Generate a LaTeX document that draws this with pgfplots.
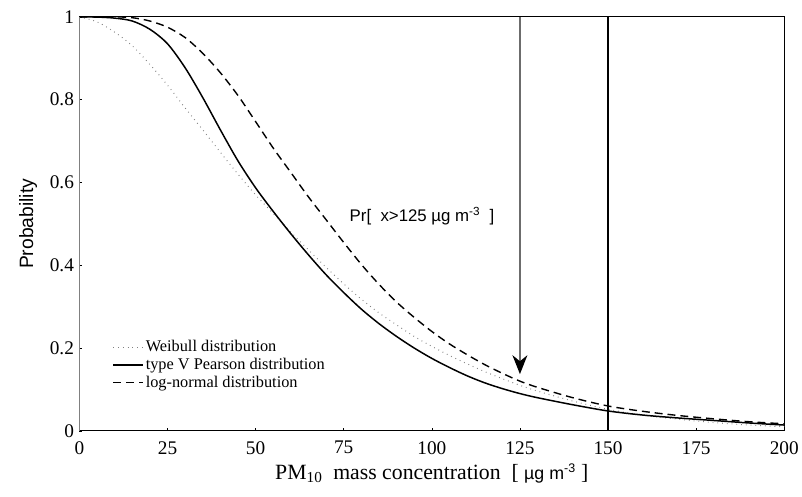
\documentclass[border=0pt]{standalone}
\usepackage{pgfplots}
\pgfplotsset{compat=1.18}
\usepackage{fontspec}
\setmainfont{Liberation Serif}
\newfontfamily\arial{Liberation Sans}
\usetikzlibrary{arrows.meta}

\begin{document}
\begin{tikzpicture}
\path (-80bp,-66bp) rectangle (722bp,434bp);
\begin{axis}[
  scale only axis,
  width=710bp, height=417bp,
  xmin=0, xmax=200, ymin=0, ymax=1,
  xtick={0,25,...,200},
  ytick={0,0.2,0.4,0.6,0.8,1},
  yticklabels={0,0.2,0.4,0.6,0.8,1},
  tick pos=left,
  tick align=inside,
  major tick length=3bp,
  tick style={black, line width=0.6bp},
  axis line style={line width=0.9bp},
  /pgf/number format/assume math mode=true,
  ticklabel style={font=\fontsize{19.5}{21}\selectfont},
  xticklabel style={yshift=-7bp},
  yticklabel style={xshift=-2bp},
  xlabel={PM\textsubscript{10}~ mass concentration~ [ {\arial\fontsize{18}{20}\selectfont µg m\textsuperscript{-3}} ]},
  xlabel style={font=\fontsize{22}{24}\selectfont, yshift=-3bp},
  ylabel={\arial Probability},
  ylabel style={font=\fontsize{19.5}{21}\selectfont, yshift=6bp},
  clip=false,
  legend cell align=left,
  legend style={draw=none, fill=none, at={(axis cs:8.5,0.228)}, anchor=north west,
    font=\fontsize{16.5}{18}\selectfont, row sep=1bp,
    /tikz/every even column/.append style={column sep=4bp}},
  legend image code/.code={\draw[#1] (0bp,0bp) -- (30bp,0bp);},
]
% Weibull (dotted)
\addplot[gray, line width=1bp, dash pattern=on 0.8bp off 4bp, smooth] coordinates {
(0,1.0) (5,0.988) (10,0.963) (15,0.93) (20,0.885) (25,0.835) (30,0.78) (35,0.727)
(40,0.673) (45,0.62) (50,0.57) (55,0.525) (60,0.48) (65,0.437) (70,0.395) (75,0.355)
(80,0.318) (85,0.285) (90,0.256) (95,0.228) (100,0.204) (105,0.182) (110,0.162)
(115,0.143) (120,0.126) (125,0.11) (130,0.096) (140,0.072) (150,0.052) (160,0.038)
(170,0.028) (180,0.02) (190,0.014) (200,0.01)};
\addlegendentry{Weibull distribution}
% Pearson type V (solid)
\addplot[black, line width=1.5bp, smooth] coordinates {
(0,1.0) (5,0.9995) (10,0.997) (15,0.99) (20,0.97) (25,0.935) (30,0.877) (35,0.805)
(40,0.727) (45,0.652) (50,0.587) (55,0.53) (60,0.476) (65,0.425) (70,0.377) (75,0.334)
(80,0.294) (85,0.259) (90,0.228) (95,0.2) (100,0.175) (105,0.153) (110,0.133)
(115,0.116) (120,0.102) (125,0.09) (130,0.08) (140,0.063) (150,0.048) (160,0.038)
(170,0.031) (180,0.025) (190,0.019) (200,0.014)};
\addlegendentry{ type V Pearson distribution}
% log-normal (dashed)
\addplot[black, line width=1.4bp, dash pattern=on 8bp off 5bp, smooth] coordinates {
(0,1.0) (10,1.0) (15,0.998) (20,0.99) (25,0.975) (30,0.95) (35,0.912) (40,0.865)
(45,0.81) (50,0.747) (55,0.683) (60,0.624) (65,0.565) (70,0.51) (75,0.455) (80,0.402)
(85,0.354) (90,0.311) (95,0.274) (100,0.24) (105,0.21) (110,0.184) (115,0.16)
(120,0.139) (125,0.12) (130,0.105) (140,0.08) (150,0.06) (160,0.047) (170,0.037)
(180,0.029) (190,0.022) (200,0.017)};
\addlegendentry{log-normal distribution}
\draw[gray, line width=1.3bp] (rel axis cs:0,0) -- (rel axis cs:0,1);
\draw[black, line width=1.2bp] (axis cs:150,0) -- (axis cs:150,1);
\draw[gray!85!black, line width=1.6bp, -{Stealth[length=19bp,width=15bp,inset=6bp,color=black]}]
  (axis cs:125,1) -- (axis cs:125,0.137);
\node[font=\arial\fontsize{17}{19}\selectfont] at (axis cs:97.2,0.518)
  {Pr[~ x>125 µg m\textsuperscript{-3}~ ]};
\end{axis}
\end{tikzpicture}
\end{document}
